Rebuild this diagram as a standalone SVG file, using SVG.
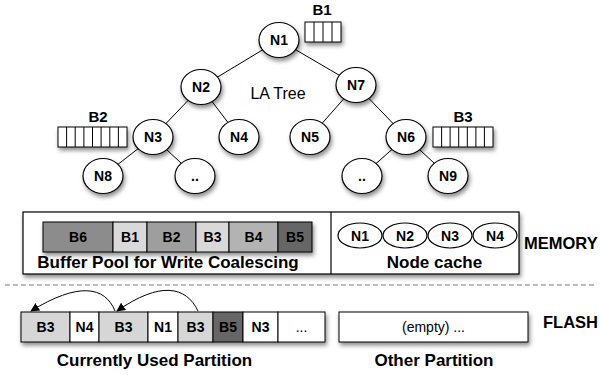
<svg xmlns="http://www.w3.org/2000/svg" width="600" height="375" viewBox="0 0 600 375">
<defs>
<filter id="sh" x="-30%" y="-30%" width="160%" height="170%">
<feDropShadow dx="1.5" dy="3" stdDeviation="2" flood-color="#000" flood-opacity="0.45"/>
</filter>
<marker id="ah" viewBox="0 0 10 10" refX="9" refY="5" markerWidth="9" markerHeight="9" orient="auto" markerUnits="userSpaceOnUse">
<path d="M0,0 L10,5 L0,10 z" fill="#000"/>
</marker>
</defs>
<style>
text{font-family:"Liberation Sans",Arial,sans-serif;fill:#000;}
.b{font-weight:bold;font-size:14px;text-anchor:middle;}
.lb{font-weight:bold;font-size:17px;text-anchor:middle;}
.side{font-weight:bold;font-size:16.5px;}
.node{fill:#fff;stroke:#000;stroke-width:1.2;}
.edge{stroke:#000;stroke-width:1;fill:none;}
.cell{stroke:#000;stroke-width:1;}
.buf{fill:#fff;stroke:#000;stroke-width:1;}
</style>

<g id="connectors">
<line class="edge" x1="279" y1="40" x2="201" y2="87"/>
<line class="edge" x1="279" y1="40" x2="356" y2="85"/>
<line class="edge" x1="201" y1="87" x2="153" y2="137"/>
<line class="edge" x1="201" y1="87" x2="239" y2="137"/>
<line class="edge" x1="153" y1="137" x2="103" y2="176"/>
<line class="edge" x1="153" y1="137" x2="195" y2="176"/>
<line class="edge" x1="356" y1="85" x2="310" y2="137"/>
<line class="edge" x1="356" y1="85" x2="406" y2="137"/>
<line class="edge" x1="406" y1="137" x2="362" y2="176"/>
<line class="edge" x1="406" y1="137" x2="448" y2="176"/>
<path class="edge" d="M115,311 C105,286 78,282 31,311" marker-end="url(#ah)"/>
<path class="edge" d="M198,311 C186,286 160,281 117,311" marker-end="url(#ah)"/>
</g>

<g id="n1"><ellipse class="node" cx="279" cy="40" rx="20" ry="17.5" filter="url(#sh)"/><text class="b" x="279" y="45">N1</text></g>
<g id="n2"><ellipse class="node" cx="201" cy="87" rx="20" ry="17.5" filter="url(#sh)"/><text class="b" x="201" y="92">N2</text></g>
<g id="n7"><ellipse class="node" cx="356" cy="85" rx="20" ry="17.5" filter="url(#sh)"/><text class="b" x="356" y="90">N7</text></g>
<g id="n3"><ellipse class="node" cx="153" cy="137" rx="20" ry="17.5" filter="url(#sh)"/><text class="b" x="153" y="142">N3</text></g>
<g id="n4"><ellipse class="node" cx="239" cy="137" rx="20" ry="17.5" filter="url(#sh)"/><text class="b" x="239" y="142">N4</text></g>
<g id="n5"><ellipse class="node" cx="310" cy="137" rx="20" ry="17.5" filter="url(#sh)"/><text class="b" x="310" y="142">N5</text></g>
<g id="n6"><ellipse class="node" cx="406" cy="137" rx="20" ry="17.5" filter="url(#sh)"/><text class="b" x="406" y="142">N6</text></g>
<g id="n8"><ellipse class="node" cx="103" cy="176" rx="20" ry="17.5" filter="url(#sh)"/><text class="b" x="103" y="181">N8</text></g>
<g id="d1"><ellipse class="node" cx="195" cy="176" rx="20" ry="17.5" filter="url(#sh)"/><text class="b" x="195" y="181">..</text></g>
<g id="d2"><ellipse class="node" cx="362" cy="176" rx="20" ry="17.5" filter="url(#sh)"/><text class="b" x="362" y="181">..</text></g>
<g id="n9"><ellipse class="node" cx="448" cy="176" rx="20" ry="17.5" filter="url(#sh)"/><text class="b" x="448" y="181">N9</text></g>

<text x="278" y="99" style="font-size:16px;text-anchor:middle">LA Tree</text>

<g id="b1">
<text x="322" y="15" style="font-weight:bold;font-size:15px;text-anchor:middle">B1</text>
<rect class="buf" x="305" y="22" width="36" height="20" filter="url(#sh)"/>
<path class="edge" d="M314,22V42M323,22V42M332,22V42"/>
</g>
<g id="b2">
<text x="98" y="122" style="font-weight:bold;font-size:15px;text-anchor:middle">B2</text>
<rect class="buf" x="58" y="127" width="69" height="20" filter="url(#sh)"/>
<path class="edge" d="M66.6,127V147M75.2,127V147M83.9,127V147M92.5,127V147M101.1,127V147M109.8,127V147M118.4,127V147"/>
</g>
<g id="b3">
<text x="463" y="122" style="font-weight:bold;font-size:15px;text-anchor:middle">B3</text>
<rect class="buf" x="433" y="127" width="60" height="20" filter="url(#sh)"/>
<path class="edge" d="M441.6,127V147M450.1,127V147M458.7,127V147M467.3,127V147M475.9,127V147M484.4,127V147"/>
</g>

<g id="memory">
<rect x="23" y="212" width="496" height="62" fill="#fff" stroke="#000" stroke-width="1.2" filter="url(#sh)"/>
<line x1="331" y1="212" x2="331" y2="274" stroke="#000" stroke-width="1.2"/>
</g>

<g id="bufferpool">
<g filter="url(#sh)">
<rect class="cell" x="43" y="222" width="70" height="30" fill="#8c8c8c"/>
<rect class="cell" x="113" y="222" width="34" height="30" fill="#d9d9d9"/>
<rect class="cell" x="147" y="222" width="49" height="30" fill="#9e9e9e"/>
<rect class="cell" x="196" y="222" width="33" height="30" fill="#d9d9d9"/>
<rect class="cell" x="229" y="222" width="49" height="30" fill="#b3b3b3"/>
<rect class="cell" x="278" y="222" width="34" height="30" fill="#666"/>
</g>
<text class="b" x="78" y="242">B6</text>
<text class="b" x="130" y="242">B1</text>
<text class="b" x="171.5" y="242">B2</text>
<text class="b" x="212.5" y="242">B3</text>
<text class="b" x="253.5" y="242">B4</text>
<text class="b" x="295" y="242">B5</text>
<text class="lb" x="168" y="268">Buffer Pool for Write Coalescing</text>
</g>

<g id="nodecache">
<ellipse class="node" cx="360" cy="235.5" rx="22" ry="12.5"/>
<ellipse class="node" cx="405" cy="235.5" rx="22" ry="12.5"/>
<ellipse class="node" cx="450" cy="235.5" rx="22" ry="12.5"/>
<ellipse class="node" cx="495" cy="235.5" rx="22" ry="12.5"/>
<text class="b" x="360" y="240.5">N1</text>
<text class="b" x="405" y="240.5">N2</text>
<text class="b" x="450" y="240.5">N3</text>
<text class="b" x="495" y="240.5">N4</text>
<text class="lb" x="434.5" y="268">Node cache</text>
</g>

<text class="side" x="524" y="249">MEMORY</text>

<line x1="5" y1="285" x2="597" y2="285" stroke="#777" stroke-width="1.2" stroke-dasharray="5,3"/>

<g id="current">
<g filter="url(#sh)">
<rect class="cell" x="21" y="312" width="49" height="30" fill="#d6d6d6"/>
<rect class="cell" x="70" y="312" width="29" height="30" fill="#fff"/>
<rect class="cell" x="99" y="312" width="49" height="30" fill="#d6d6d6"/>
<rect class="cell" x="148" y="312" width="30" height="30" fill="#fff"/>
<rect class="cell" x="178" y="312" width="35" height="30" fill="#d6d6d6"/>
<rect class="cell" x="213" y="312" width="30" height="30" fill="#666"/>
<rect class="cell" x="243" y="312" width="35" height="30" fill="#fff"/>
<rect class="cell" x="278" y="312" width="47" height="30" fill="#fff"/>
</g>
<text class="b" x="45.5" y="332">B3</text>
<text class="b" x="84.5" y="332">N4</text>
<text class="b" x="123.5" y="332">B3</text>
<text class="b" x="163" y="332">N1</text>
<text class="b" x="195.5" y="332">B3</text>
<text class="b" x="228" y="332">B5</text>
<text class="b" x="260.5" y="332">N3</text>
<text x="301.5" y="332" style="font-size:14px;text-anchor:middle">...</text>
<text class="lb" x="154.5" y="366">Currently Used Partition</text>
</g>

<g id="other">
<rect x="339" y="312" width="189" height="30" fill="#fff" stroke="#000" stroke-width="1" filter="url(#sh)"/>
<text x="433.5" y="332" style="font-size:14px;text-anchor:middle">(empty) ...</text>
<text class="lb" x="434" y="366">Other Partition</text>
</g>

<text class="side" x="543" y="328">FLASH</text>
</svg>
